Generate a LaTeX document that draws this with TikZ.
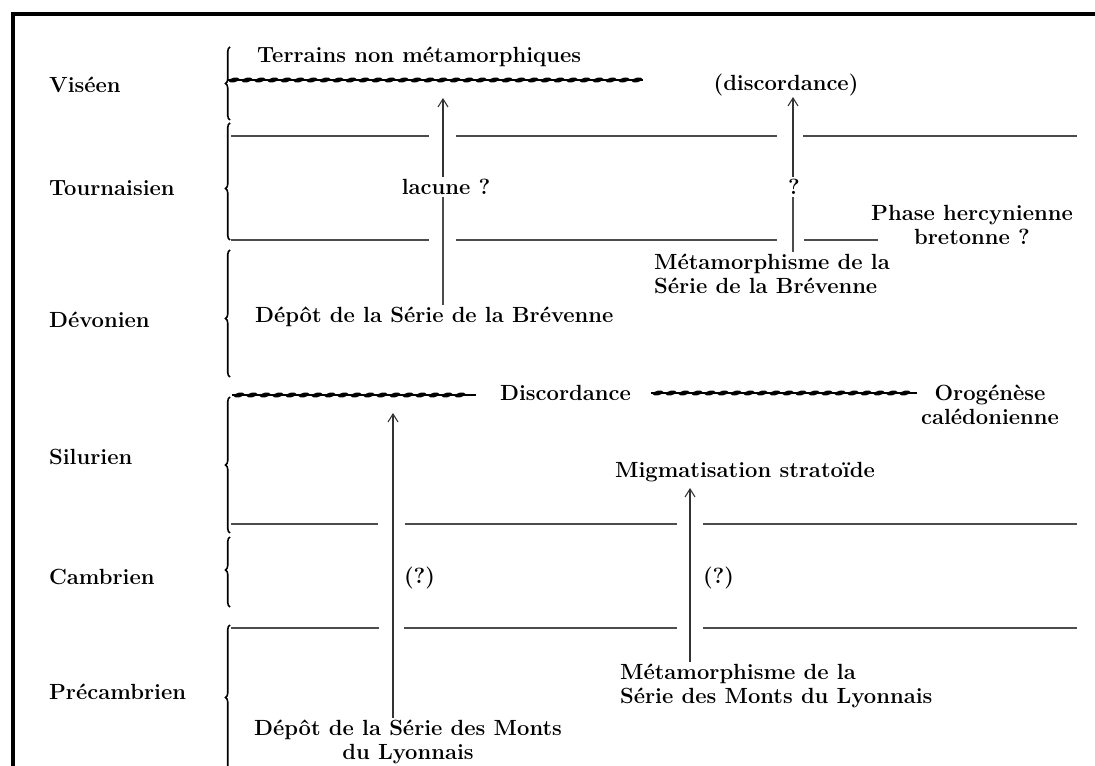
\documentclass[tikz,border=0pt]{standalone}
\usepackage{xcolor}
\usepackage{tikz}
\usetikzlibrary{arrows.meta,decorations.pathreplacing}

\begin{document}
\begin{tikzpicture}[x=0.02cm,y=-0.02cm,
    every node/.style={font=\fontsize{12.5}{13.5}\selectfont\bfseries, inner sep=1pt},
    era/.style={anchor=west},
    limite/.style={draw=black!70, line width=0.6pt},
    accolade/.style={line width=0.9pt, decorate,
        decoration={brace, amplitude=0.09cm, aspect=#1}},
    accolade/.default=0.5,
    fleche/.style={draw=black!80, line width=0.6pt, -{Straight Barb[length=1.6mm,width=2mm]}}]
                \useasboundingbox (0,0) rectangle (1095,766);
                % cadre
                \draw[line width=2.3pt] (13,780) -- (13,14) -- (1100,14);
                % etages
                \node[era] (vis) at (47,85) {Viséen};
                \node[era] (tou) at (47,188) {Tournaisien};
                \node[era] (dev) at (47,320) {Dévonien};
                \node[era] (sil) at (47,457) {Silurien};
                \node[era] (cam) at (47,577) {Cambrien};
                \node[era] (pre) at (47,692) {Précambrien};
                \draw[accolade] (230,120) -- (230,47);
                \draw[accolade=0.44] (230,240) -- (230,123);
                \draw[accolade=0.46] (230,377) -- (230,250);
                \draw[accolade=0.5] (230,533) -- (230,397);
                \draw[accolade=0.53] (230,607) -- (230,537);
                \draw[accolade=0.5] (230,770) -- (230,625);
                % limites
                \draw[limite] (231,136) -- (429,136) (456,136) -- (777,136) (803,136) -- (1077,136);
                \draw[limite] (231,240) -- (429,240) (456,240) -- (777,240) (804,240) -- (878,240);
                \draw[limite] (231,524) -- (378,524) (405,524) -- (677,524) (703,524) -- (1077,524);
                \draw[limite] (231,628) -- (379,628) (404,628) -- (677,628) (703,628) -- (1077,628);
                % discordances
                \draw[line width=0.7pt] (227,80) -- (643,80);
                \foreach \x in {234,247,...,641}
                    \fill (\x,80) ellipse [x radius=5.5, y radius=2.3, rotate=12];
                \draw[line width=0.7pt] (232,395) -- (476,395);
                \foreach \x in {239,252,...,472}
                    \fill (\x,395) ellipse [x radius=5.5, y radius=2.3, rotate=12];
                \draw[line width=0.7pt] (651,393) -- (917,393);
                \foreach \x in {658,671,...,913}
                    \fill (\x,393) ellipse [x radius=5.5, y radius=2.3, rotate=12];
                \node[anchor=west] (terr) at (255,57) {Terrains non métamorphiques};
                \node (disc) at (786,85) {(discordance)};
                \node[anchor=west] (discB) at (498,393) {Discordance};
                \node[align=center] (oro) at (990,405) {Orogénèse\\calédonienne};
                \node[align=center] (phase) at (972,225) {Phase hercynienne\\bretonne ?};
                % Brevenne
                \node[anchor=west] (depotB) at (253,317) {Dépôt de la Série de la Brévenne};
                \node (lacune) at (446,187) {lacune ?};
                \coordinate (tipA) at (443,98);
                \draw[limite] (depotB.north -| tipA) -- (lacune.south -| tipA);
                \draw[fleche] (lacune.north -| tipA) -- (tipA);
                \node[anchor=west, align=left] (metaB) at (652,274) {Métamorphisme de la\\Série de la Brévenne};
                \node (quest) at (794,187) {?};
                \coordinate (tipB) at (793,97);
                \draw[limite] (metaB.north -| tipB) -- (quest.south -| tipB);
                \draw[fleche] (quest.north -| tipB) -- (tipB);
                % Monts du Lyonnais
                \node[align=center] (depotL) at (408,742) {Dépôt de la Série des Monts\\du Lyonnais};
                \coordinate (tipC) at (393,413);
                \draw[fleche] (depotL.north -| tipC) -- (tipC);
                \node[anchor=west] (qC) at (402,578) {(?)};
                \node[anchor=west, align=left] (metaL) at (618,686) {Métamorphisme de la\\Série des Monts du Lyonnais};
                \node (migm) at (745,472) {Migmatisation stratoïde};
                \coordinate (tipD) at (690,488);
                \draw[fleche] (metaL.north -| tipD) -- (tipD);
                \node[anchor=west] (qD) at (701,578) {(?)};
            \end{tikzpicture}
\end{document}
